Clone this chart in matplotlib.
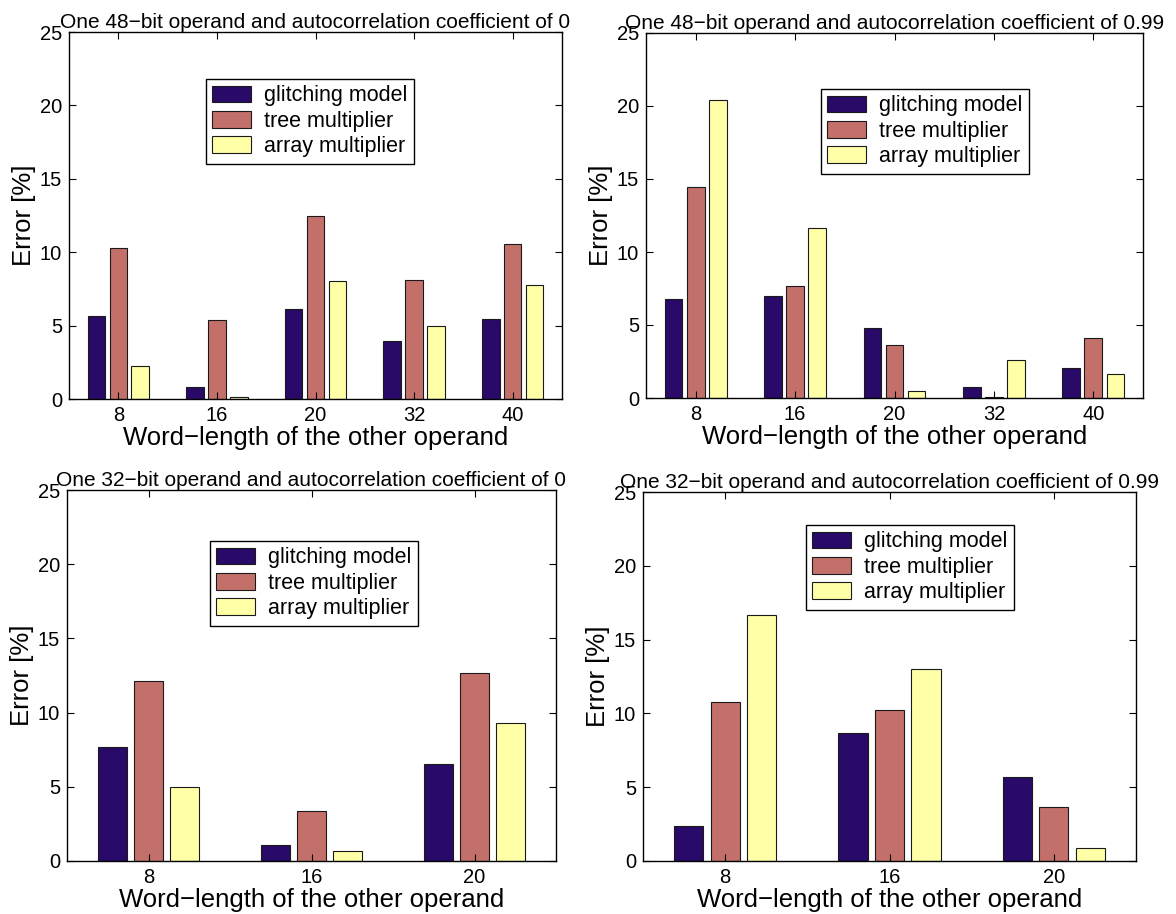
import numpy as np
import matplotlib
matplotlib.use("Agg")
import matplotlib.pyplot as plt

plt.rcParams['font.family'] = ['Liberation Sans', 'DejaVu Sans']

series_names = ["glitching model", "tree multiplier", "array multiplier"]
series_colors = ["#2a0a68", "#c4706a", "#ffffa8"]

# 48-bit operand
wl_48 = ["8", "16", "20", "32", "40"]
glitch_48_r0 = [5.62, 0.80, 6.15, 3.96, 5.46]
tree_48_r0 = [10.27, 5.40, 12.50, 8.13, 10.59]
array_48_r0 = [2.23, 0.14, 8.01, 4.96, 7.74]

glitch_48_r99 = [6.80, 6.98, 4.77, 0.73, 2.03]
tree_48_r99 = [14.46, 7.64, 3.60, 0.09, 4.13]
array_48_r99 = [20.44, 11.63, 0.46, 2.58, 1.67]

# 32-bit operand
wl_32 = ["8", "16", "20"]
glitch_32_r0 = [7.66, 1.06, 6.55]
tree_32_r0 = [12.12, 3.36, 12.68]
array_32_r0 = [5.00, 0.68, 9.30]

glitch_32_r99 = [2.37, 8.66, 5.72]
tree_32_r99 = [10.80, 10.24, 3.64]
array_32_r99 = [16.68, 13.00, 0.88]

titles = [
    "One 48\u2212bit operand and autocorrelation coefficient of 0",
    "One 48\u2212bit operand and autocorrelation coefficient of 0.99",
    "One 32\u2212bit operand and autocorrelation coefficient of 0",
    "One 32\u2212bit operand and autocorrelation coefficient of 0.99",
]

W, H = 1176, 914
fig = plt.figure(figsize=(W / 100, H / 100), dpi=100)

# axes boxes in pixels: left, top, right, bottom
boxes = [(69, 32, 562, 399), (646, 33, 1143, 398),
         (67, 490, 556, 861), (643, 492, 1136, 861)]
legend_corners = [(206, 79), (821, 89), (210, 541), (806, 525)]

panels = [
    (wl_48, [glitch_48_r0, tree_48_r0, array_48_r0]),
    (wl_48, [glitch_48_r99, tree_48_r99, array_48_r99]),
    (wl_32, [glitch_32_r0, tree_32_r0, array_32_r0]),
    (wl_32, [glitch_32_r99, tree_32_r99, array_32_r99]),
]

nser = 3
group_w = min(0.8, nser / (nser + 1.5))
step = group_w / nser
bar_w = 0.8 * step

for i, ((labels, series), box, title, lc) in enumerate(zip(panels, boxes, titles, legend_corners)):
    l, t, r, b = box
    ax = fig.add_axes([l / W, 1 - b / H, (r - l) / W, (b - t) / H])
    x = np.arange(1, len(labels) + 1)
    for k, (vals, name, col) in enumerate(zip(series, series_names, series_colors)):
        offs = (k - (nser - 1) / 2) * step
        ax.bar(x + offs, vals, width=bar_w, color=col, edgecolor="#1a1a1a",
               linewidth=0.8, label=name)
    ax.set_xlim(0.5, len(labels) + 0.5)
    ax.set_ylim(0, 25)
    ax.set_xticks(x)
    ax.set_xticklabels(labels)
    ax.set_yticks([0, 5, 10, 15, 20, 25])
    ax.tick_params(direction="in", top=True, right=True, length=5, width=0.8,
                   labelsize=14.5, pad=5)
    for s in ax.spines.values():
        s.set_linewidth(1.0)
    ax.set_xlabel("Word\u2212length of the other operand", fontsize=18.5, labelpad=1)
    ax.set_ylabel("Error [%]", fontsize=18.5, labelpad=3)
    ax.set_title(title, fontsize=15, pad=3)
    leg = ax.legend(loc="upper left", bbox_to_anchor=(lc[0] / W, 1 - lc[1] / H),
                    bbox_transform=fig.transFigure, borderaxespad=0,
                    fontsize=15.5, fancybox=False, framealpha=1, edgecolor="black",
                    handlelength=1.8, handleheight=0.8, labelspacing=0.2,
                    handletextpad=0.6, borderpad=0.3)
    leg.get_frame().set_linewidth(1.0)

fig.savefig("out.png", dpi=100)
